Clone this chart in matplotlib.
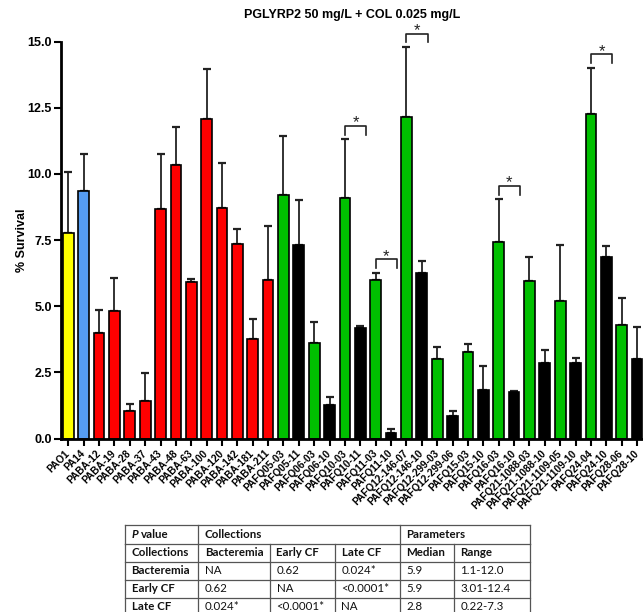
import numpy as np
import matplotlib
matplotlib.use("Agg")
import matplotlib.pyplot as plt
from matplotlib.lines import Line2D

plt.rcParams['font.family'] = ['Liberation Sans', 'DejaVu Sans']

# strains
labels = ["PAO1", "PA14",
          "PABA-12", "PABA-19", "PABA-28", "PABA-37", "PABA-43", "PABA-48",
          "PABA-63", "PABA-100", "PABA-120", "PABA-142", "PABA-181", "PABA-211",
          "PAFQ05-03", "PAFQ05-11", "PAFQ06-03", "PAFQ06-10",
          "PAFQ10-03", "PAFQ10-11", "PAFQ11-03", "PAFQ11-10",
          "PAFQ12-146-07", "PAFQ12-146-10", "PAFQ12-299-03", "PAFQ12-299-06",
          "PAFQ15-03", "PAFQ15-10", "PAFQ16-03", "PAFQ16-10",
          "PAFQ21-1088-03", "PAFQ21-1088-10", "PAFQ21-1109-05", "PAFQ21-1109-10",
          "PAFQ24-04", "PAFQ24-10", "PAFQ28-06", "PAFQ28-10"]

groups = ["PAO1", "PA14"] + ["Bacteremia"] * 12 + ["Early CF", "Late CF"] * 12

# mean % survival and top of the (upper only) error bar
means = [7.78, 9.35,
         3.97, 4.83, 1.04, 1.41, 8.67, 10.33, 5.91, 12.08, 8.73, 7.35, 3.78, 6.0,
         9.19, 7.33, 3.62, 1.27, 9.1, 4.16, 6.0, 0.19, 12.15, 6.25, 3.02, 0.85,
         3.26, 1.85, 7.41, 1.74, 5.94, 2.84, 5.2, 2.84, 12.27, 6.87, 4.3, 3.02]
upper = [10.06, 10.75,
         4.84, 6.07, 1.29, 2.48, 10.77, 11.76, 6.03, 13.95, 10.43, 7.92, 4.5, 8.04,
         11.42, 9.02, 4.41, 1.55, 11.32, 4.27, 6.27, 0.37, 14.8, 6.7, 3.47, 1.05,
         3.57, 2.74, 9.05, 1.81, 6.87, 3.33, 7.33, 3.04, 14.02, 7.29, 5.32, 4.23]

# significant early/late pairs (index of first and second bar)
sig_pairs = [(18, 19), (20, 21), (22, 23), (28, 29), (34, 35)]

# summary table
tbl_head = ["Collections", "Bacteremia", "Early CF", "Late CF", "Median", "Range"]
tbl_rows = [["Bacteremia", "NA", "0.62", "0.024*", "5.9", "1.1-12.0"],
            ["Early CF", "0.62", "NA", "<0.0001*", "5.9", "3.01-12.4"],
            ["Late CF", "0.024*", "<0.0001*", "NA", "2.8", "0.22-7.3"]]

group_colors = {"PAO1": "#FFFF00", "PA14": "#559CF2", "Bacteremia": "#FF0000",
                "Early CF": "#00C000", "Late CF": "#000000"}

W, H = 643, 612
fig = plt.figure(figsize=(W / 100, H / 100), dpi=100)

def fx(px):
    return px / W

def fy(py):
    return 1 - py / H

ax = fig.add_axes([fx(61), fy(438.5), (W - 61) / W, (438.5 - 41.7) / H])

x = np.arange(len(labels))
means = np.array(means)
upper = np.array(upper)
ax.bar(x, means, width=0.7, color=[group_colors[g] for g in groups],
       edgecolor="black", linewidth=1.2, zorder=2)
ax.errorbar(x, means, yerr=[np.zeros(len(x)), upper - means], fmt="none",
            ecolor="#222222", elinewidth=1.3, capsize=3.2, capthick=1.6, zorder=1)

ax.set_xlim(-0.475, 37.39)
ax.set_ylim(0, 15)
for s in ["top", "right"]:
    ax.spines[s].set_visible(False)
for s in ["left", "bottom"]:
    ax.spines[s].set_linewidth(2)

ax.set_yticks(np.arange(0, 15.1, 2.5))
ax.set_yticklabels(["%.1f" % v for v in np.arange(0, 15.1, 2.5)],
                   fontsize=9, fontweight="bold")
ax.set_xticks(x)
ax.set_xticklabels(labels, rotation=45, ha="right", va="center",
                   rotation_mode="anchor", fontsize=7.3, fontweight="bold")
ax.tick_params(axis="both", width=1.5, length=5, pad=1.5)
ax.tick_params(axis="x", pad=4.5)

#significance brackets
for i, j in sig_pairs:
    y = upper[i] + 0.5
    ax.plot([i, i, j + 0.4, j + 0.4], [y - 0.33, y, y, y - 0.33],
            color="#222222", lw=1.2, clip_on=False)
    ax.text((i + j + 0.4) / 2, y - 0.05, "*", ha="center", va="baseline",
            fontsize=12, color="#222222", clip_on=False)

fig.text(fx(352), fy(15), "PGLYRP2 50 mg/L + COL 0.025 mg/L",
         ha="center", va="center", fontsize=9, fontweight="bold")
fig.text(fx(22), fy(240), "% Survival", rotation=90,
         ha="center", va="center", fontsize=9, fontweight="bold")

#table, drawn by hand because of the merged header cells
cols = [125, 198.3, 270, 335, 400, 454, 530]
rows = [525, 543.5, 561.5, 579.5, 597.5, 616]
lc = "#555555"

def hline(py, x0, x1):
    fig.add_artist(Line2D([fx(x0), fx(x1)], [fy(py), fy(py)], color=lc, lw=0.9))

def vline(px, y0, y1):
    fig.add_artist(Line2D([fx(px), fx(px)], [fy(y0), fy(y1)], color=lc, lw=0.9))

for r in rows:
    hline(r, cols[0], cols[-1])
for c in [cols[0], cols[1], cols[4], cols[6]]:
    vline(c, rows[0], rows[1])
for c in cols:
    vline(c, rows[1], rows[-1])

tfont = dict(family=["Lato", "DejaVu Sans"], fontsize=8.3, va="center",
             ha="left", color="#111111")
pad = 6.5

def cell(px, py, txt, **kw):
    fig.text(fx(px + pad), fy(py), txt, **tfont, **kw)

ry = [(rows[k] + rows[k + 1]) / 2 for k in range(len(rows) - 1)]
cell(cols[0], ry[0], "P", style="italic", fontweight="bold")
cell(cols[0] + 9, ry[0], "value", fontweight="bold")
cell(cols[1], ry[0], "Collections", fontweight="bold")
cell(cols[4], ry[0], "Parameters", fontweight="bold")
for k, t in enumerate(tbl_head):
    cell(cols[k], ry[1], t, fontweight="bold")
for r, row in enumerate(tbl_rows):
    for k, t in enumerate(row):
        cell(cols[k], ry[r + 2], t, fontweight="bold" if k == 0 else "normal")

fig.savefig("out.png", dpi=100)
